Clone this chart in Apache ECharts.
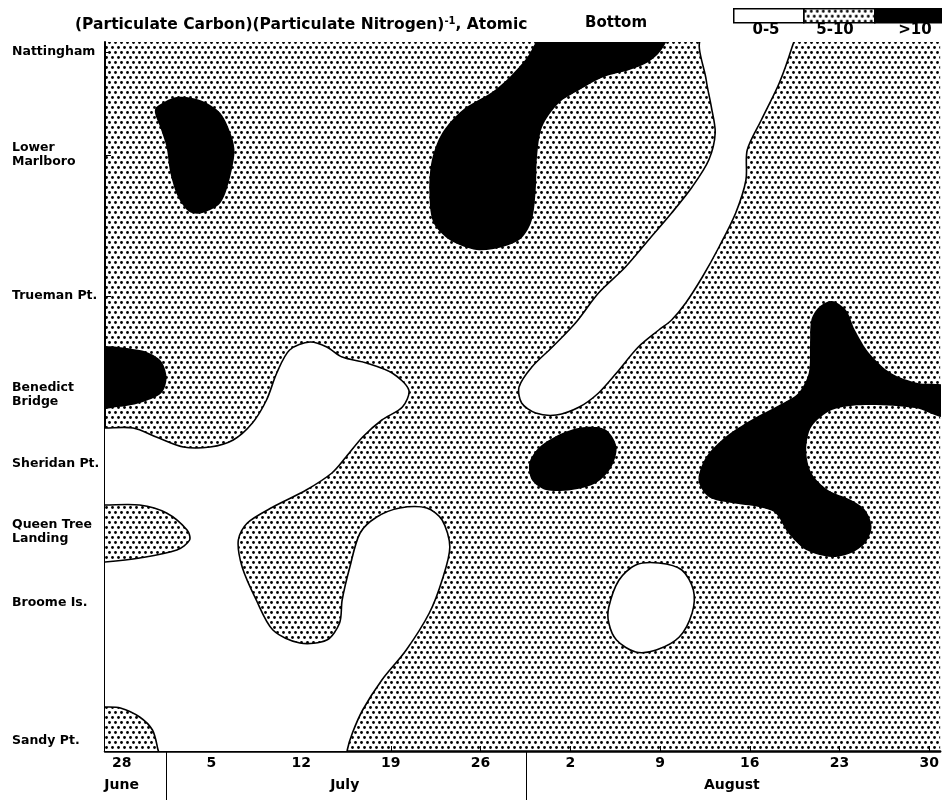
<!DOCTYPE html>
<html>
<head>
<meta charset="utf-8">
<script src="https://cdn.jsdelivr.net/npm/echarts@6/dist/echarts.min.js"></script>
<style>
  html, body { margin: 0; padding: 0; background: #fff; overflow: hidden; }
  #chart { width: 942px; height: 807px; }
</style>
</head>
<body>
<div id="chart"></div>
<script>
// x = days after 28 June, y = station position along the river (Sandy Pt. = 0)

// Axis ticks
const tickDays = [0, 7, 14, 21, 28, 35, 42, 49, 56, 63];
const tickLabels = ['28', '5', '12', '19', '26', '2', '9', '16', '23', '30'];
const monthBreaks = [3.5, 31.6];
const monthCenters = [0, 17.4, 47.6];
const monthNames = ['June', 'July', 'August'];

const stationPos = [69.9, 59.6, 45.5, 35.6, 28.7, 21.9, 14.8, 1.0];
const stationNames = ['Nattingham', 'Lower\nMarlboro', 'Trueman Pt.', 'Benedict\nBridge',
    'Sheridan Pt.', 'Queen Tree\nLanding', 'Broome Is.', 'Sandy Pt.'];

const legendLabels = ['0-5', '5-10', '>10'];

// C/N ratio 0-5 (white)
const lowBand = [[45.3,71.3],[45.6,67.1],[46.0,64.4],[46.3,61.8],[45.8,59.1],[44.5,56.4],[42.9,53.8],
    [41.1,51.1],[39.3,48.4],[37.2,45.8],[35.4,42.8],[33.6,40.4],[32.0,38.4],[31.0,36.4],[31.2,34.8],
    [32.3,33.8],[33.9,33.6],[35.7,34.4],[37.2,35.8],[38.6,37.8],[40.3,40.4],[41.9,42.1],[42.9,43.1],
    [44.0,44.8],[45.3,47.4],[46.6,50.4],[47.9,53.8],[48.7,57.1],[48.8,60.1],[49.9,63.1],[51.3,66.8],
    [52.3,70.4],[52.4,71.3]];
const lowSouthwest = [[-2.1,32.3],[-1.3,32.3],[0.9,32.3],[2.7,31.4],[4.8,30.4],[6.9,30.4],[8.7,31.1],
    [10.2,32.8],[11.3,35.1],[12.1,37.8],[13.1,40.1],[14.7,40.9],[16.0,40.4],[17.2,39.4],[19.1,38.8],
    [21.1,37.8],[22.4,36.1],[21.9,34.4],[20.3,33.1],[18.8,31.4],[17.5,29.4],[16.4,27.8],[14.4,26.1],
    [11.8,24.4],[9.8,22.8],[9.1,21.1],[9.4,18.4],[10.5,15.1],[11.8,12.1],[13.9,10.8],[16.0,11.1],
    [17.0,12.8],[17.2,15.1],[17.8,18.4],[18.6,21.8],[19.9,23.4],[21.7,24.3],[23.8,24.3],[25.0,23.1],
    [25.6,20.4],[25.0,17.1],[24.0,13.8],[22.2,10.1],[20.3,7.1],[18.8,4.1],[18.0,1.8],[17.6,0.1],
    [17.5,-1.5],[-2.1,-1.5]];
const lowBroome = [[38.0,14.4],[38.8,17.1],[40.1,18.6],[41.9,18.8],[43.7,18.1],[44.6,16.1],[44.5,13.8],
    [43.5,11.4],[41.7,10.1],[40.1,9.9],[38.6,11.1],[38.0,12.8]];

// C/N ratio 5-10 islands lying inside the 0-5 area
const midQueenTree = [[-2.1,24.6],[-1.3,24.6],[1.4,24.6],[3.5,23.8],[5.1,22.1],[5.3,21.1],[4.3,20.1],
    [1.4,19.3],[-1.3,18.9],[-2.1,18.9]];
const midSandy = [[-2.1,4.4],[-1.3,4.4],[-0.1,4.3],[1.4,3.4],[2.4,2.1],[2.8,0.3],[3.0,-1.5],[-2.1,-1.5]];

// C/N ratio > 10 (black)
const highMarlboro = [[2.7,64.4],[4.3,65.4],[6.1,65.1],[7.7,63.8],[8.6,61.4],[8.8,59.8],[8.4,57.1],
    [7.7,54.8],[6.3,53.8],[5.3,53.9],[4.4,55.4],[3.8,57.8],[3.5,60.4],[3.0,62.4],[2.6,63.8]];
const highNattingham = [[32.9,71.5],[31.6,69.3],[30.2,67.3],[28.9,65.9],[26.6,64.1],[25.0,61.8],
    [24.2,59.1],[24.0,56.1],[24.3,52.9],[25.6,51.1],[27.7,50.1],[29.7,50.4],[31.2,51.3],[32.0,53.1],
    [32.3,56.1],[32.4,59.4],[32.8,62.4],[34.1,64.8],[35.7,66.1],[37.6,67.4],[39.6,68.1],[41.1,68.9],
    [42.1,70.1],[42.5,71.5]];
const highSheridan = [[31.8,28.8],[32.6,30.4],[34.4,31.8],[36.2,32.4],[37.8,32.1],[38.6,30.4],[38.2,28.4],
    [37.0,26.8],[35.1,26.1],[33.1,26.1],[32.0,27.1]];
const highAugust = [[53.8,43.1],[54.4,44.4],[55.4,45.0],[56.5,44.1],[57.2,42.1],[58.3,39.8],[60.0,37.8],
    [62.1,36.8],[64.4,36.4],[64.4,33.4],[61.9,34.3],[58.0,34.6],[55.4,34.1],[53.8,32.4],[53.4,30.1],
    [53.8,27.8],[55.1,26.1],[56.9,25.1],[58.0,24.1],[58.5,22.4],[58.0,20.8],[56.9,19.8],[55.4,19.4],
    [53.4,20.1],[52.0,21.8],[51.0,23.8],[49.7,24.4],[47.6,24.8],[45.8,25.4],[45.0,27.1],[45.6,29.4],
    [47.1,31.4],[49.1,33.1],[51.3,34.6],[52.8,35.8],[53.6,37.8],[53.7,40.6]];
const highBenedict = [[-2.1,40.1],[1.4,40.1],[3.0,39.1],[3.5,37.4],[3.1,35.8],[1.4,34.8],[-0.3,34.4],[-2.1,34.4]];

const lowAreas = [lowBand, lowSouthwest, lowBroome];
const midIslands = [midQueenTree, midSandy];
const highAreas = [highMarlboro, highNattingham, highSheridan, highAugust, highBenedict];

// stipple pattern for 5-10
function makeDots() {
    const c = document.createElement('canvas');
    c.width = 6; c.height = 10;
    const g = c.getContext('2d');
    g.fillStyle = '#000';
    [[1.5, 2.5], [4.5, 7.5]].forEach(p => {
        g.beginPath();
        g.arc(p[0], p[1], 1.4, 0, Math.PI * 2);
        g.fill();
    });
    return c;
}
const dots = { image: makeDots(), repeat: 'repeat' };

function areaSeries(name, outlines, style, z) {
    return {
        name: name,
        type: 'custom',
        clip: true,
        z: z,
        silent: true,
        data: outlines.map((o, i) => [i]),
        renderItem: (params, api) => ({
            type: 'polygon',
            shape: { points: outlines[params.dataIndex].map(p => api.coord(p)), smooth: 0.3 },
            style: style
        })
    };
}

const chart = echarts.init(document.getElementById('chart'));
const fontFam = '"DejaVu Sans", sans-serif';

const option = {
    animation: false,
    backgroundColor: '#fff',
    title: [
        {
            text: '(Particulate Carbon)(Particulate Nitrogen){sup|-1}, Atomic',
            left: 70, top: 11,
            textStyle: {
                fontFamily: fontFam, fontSize: 15.5, fontWeight: 'bold', color: '#000',
                rich: { sup: { fontFamily: fontFam, fontSize: 10, fontWeight: 'bold', verticalAlign: 'top', padding: [0, 0, 8, 0] } }
            }
        },
        {
            text: 'Bottom',
            left: 580, top: 11,
            textStyle: { fontFamily: fontFam, fontSize: 15, fontWeight: 'bold', color: '#000' }
        }
    ],
    grid: { left: 105, right: 0, top: 42, bottom: 56, show: false },
    xAxis: [
        {
            type: 'value', min: -1.3, max: 63.85, position: 'bottom',
            splitLine: { show: false },
            axisLine: { show: true, onZero: false, lineStyle: { color: '#000', width: 2.5 } },
            axisTick: { show: true, customValues: tickDays, inside: true, length: 5, lineStyle: { color: '#000', width: 1 } },
            axisLabel: {
                customValues: tickDays, margin: 5, color: '#000',
                fontFamily: fontFam, fontSize: 14, fontWeight: 'bold',
                formatter: v => tickLabels[tickDays.indexOf(v)]
            }
        },
        {
            type: 'value', min: -1.3, max: 63.85, position: 'bottom',
            splitLine: { show: false },
            axisLine: { show: false, onZero: false },
            axisTick: { show: true, customValues: monthBreaks, inside: false, length: 49, lineStyle: { color: '#000', width: 1 } },
            axisLabel: {
                customValues: monthCenters, margin: 27, color: '#000',
                fontFamily: fontFam, fontSize: 14, fontWeight: 'bold',
                formatter: v => monthNames[monthCenters.indexOf(v)]
            }
        }
    ],
    yAxis: {
        type: 'value', min: 0, max: 70.9,
        splitLine: { show: false },
        axisLine: { show: true, onZero: false, lineStyle: { color: '#000', width: 2 } },
        axisTick: { show: true, customValues: stationPos, inside: true, length: 6, lineStyle: { color: '#000', width: 1 } },
        axisLabel: {
            customValues: stationPos, align: 'left', margin: 93, color: '#000',
            fontFamily: fontFam, fontSize: 12.5, fontWeight: 'bold', lineHeight: 14,
            formatter: v => stationNames[stationPos.indexOf(v)]
        }
    },
    graphic: [
        { type: 'rect', left: 733, top: 8, shape: { width: 70, height: 14 }, style: { fill: '#fff', stroke: '#000', lineWidth: 1.5 } },
        { type: 'rect', left: 803, top: 8, shape: { width: 71, height: 14 }, style: { fill: dots, stroke: '#000', lineWidth: 1.5 } },
        { type: 'rect', left: 874, top: 8, shape: { width: 68, height: 14 }, style: { fill: '#000', stroke: '#000', lineWidth: 1.5 } },
        { type: 'text', x: 766, y: 30, style: { text: legendLabels[0], align: 'center', verticalAlign: 'middle', font: 'bold 15px ' + fontFam, fill: '#000' } },
        { type: 'text', x: 835, y: 30, style: { text: legendLabels[1], align: 'center', verticalAlign: 'middle', font: 'bold 15px ' + fontFam, fill: '#000' } },
        { type: 'text', x: 915, y: 30, style: { text: legendLabels[2], align: 'center', verticalAlign: 'middle', font: 'bold 15px ' + fontFam, fill: '#000' } }
    ],
    series: [
        {
            // 5-10 everywhere else: stippled plot background
            type: 'custom', silent: true, z: 1,
            data: [[0]],
            renderItem: (params) => {
                const cs = params.coordSys;
                return { type: 'rect', shape: { x: cs.x, y: cs.y, width: cs.width, height: cs.height }, style: { fill: dots } };
            }
        },
        areaSeries('0-5', lowAreas, { fill: '#fff', stroke: '#000', lineWidth: 1.6 }, 2),
        areaSeries('5-10', midIslands, { fill: dots, stroke: '#000', lineWidth: 1.6 }, 3),
        areaSeries('>10', highAreas, { fill: '#000' }, 4)
    ]
};

chart.setOption(option);
</script>
</body>
</html>
